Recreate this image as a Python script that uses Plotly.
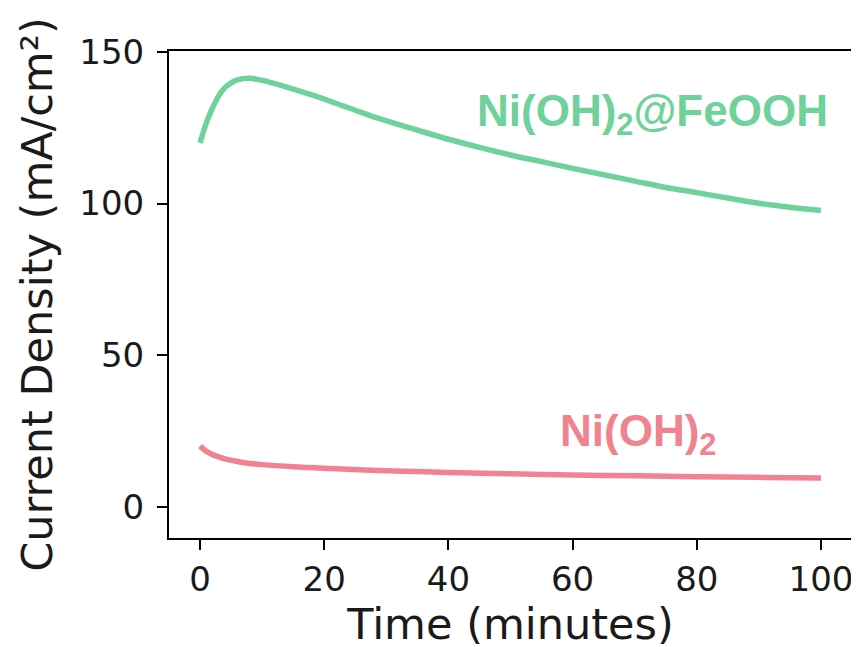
import plotly.graph_objects as go

# Data
time_green = [0, 1, 2, 3, 4, 5, 6, 8, 10, 13, 18, 24, 29, 35, 40, 45, 50, 55, 60, 65, 70, 75, 80, 85, 90, 95, 100]
cd_green = [120, 126.5, 131.5, 135.5, 138.2, 139.8, 140.8, 141.3, 140.6, 139.0, 135.8, 131.5, 127.9, 124.2,
            121.2, 118.5, 116.0, 113.8, 111.6, 109.5, 107.4, 105.3, 103.6, 101.8, 100.1, 98.8, 97.7]
time_red = [0, 1, 2, 4, 6, 8, 10, 15, 20, 30, 40, 50, 60, 70, 80, 90, 100]
cd_red = [20, 18.3, 17.2, 15.8, 14.9, 14.3, 13.9, 13.2, 12.7, 11.9, 11.3, 10.9, 10.5, 10.2, 9.9, 9.7, 9.5]

x_ticks = [0, 20, 40, 60, 80, 100]
y_ticks = [0, 50, 100, 150]

green = "#6fd29a"
red = "#f0838f"

fig = go.Figure()
fig.add_trace(go.Scatter(x=time_green, y=cd_green, mode="lines",
                         line=dict(color=green, width=5.5, shape="spline"), showlegend=False))
fig.add_trace(go.Scatter(x=time_red, y=cd_red, mode="lines",
                         line=dict(color=red, width=5.5, shape="spline"), showlegend=False))

fig.add_annotation(x=72.8, y=129.5, text="<b>Ni(OH)<sub>2</sub>@FeOOH</b>", showarrow=False,
                   font=dict(family="Liberation Sans, Arial", size=44, color=green))
fig.add_annotation(x=70.5, y=24, text="<b>Ni(OH)<sub>2</sub></b>", showarrow=False,
                   font=dict(family="Liberation Sans, Arial", size=44, color=red))

axis_common = dict(showline=True, linecolor="black", linewidth=2, mirror=True,
                   ticks="outside", ticklen=10, tickwidth=1.6, tickcolor="black",
                   showgrid=False, zeroline=False, automargin=False,
                   tickfont=dict(family="DejaVu Sans", size=34, color="#1a1a1a"))

fig.update_xaxes(range=[-5, 105], tickvals=x_ticks,
                 title=dict(text="Time (minutes)", font=dict(family="DejaVu Sans", size=43, color="#1a1a1a"), standoff=8),
                 **axis_common)
fig.update_yaxes(range=[-10.3, 150.3], tickvals=y_ticks, ticklabelstandoff=6,
                 title=dict(text="Current Density (mA/cm²)", font=dict(family="DejaVu Sans", size=43, color="#1a1a1a"), standoff=13),
                 **axis_common)

fig.update_layout(width=859, height=647, margin=dict(l=161, r=15, t=43, b=117),
                  plot_bgcolor="white", paper_bgcolor="white")

fig.write_html("out.html")
